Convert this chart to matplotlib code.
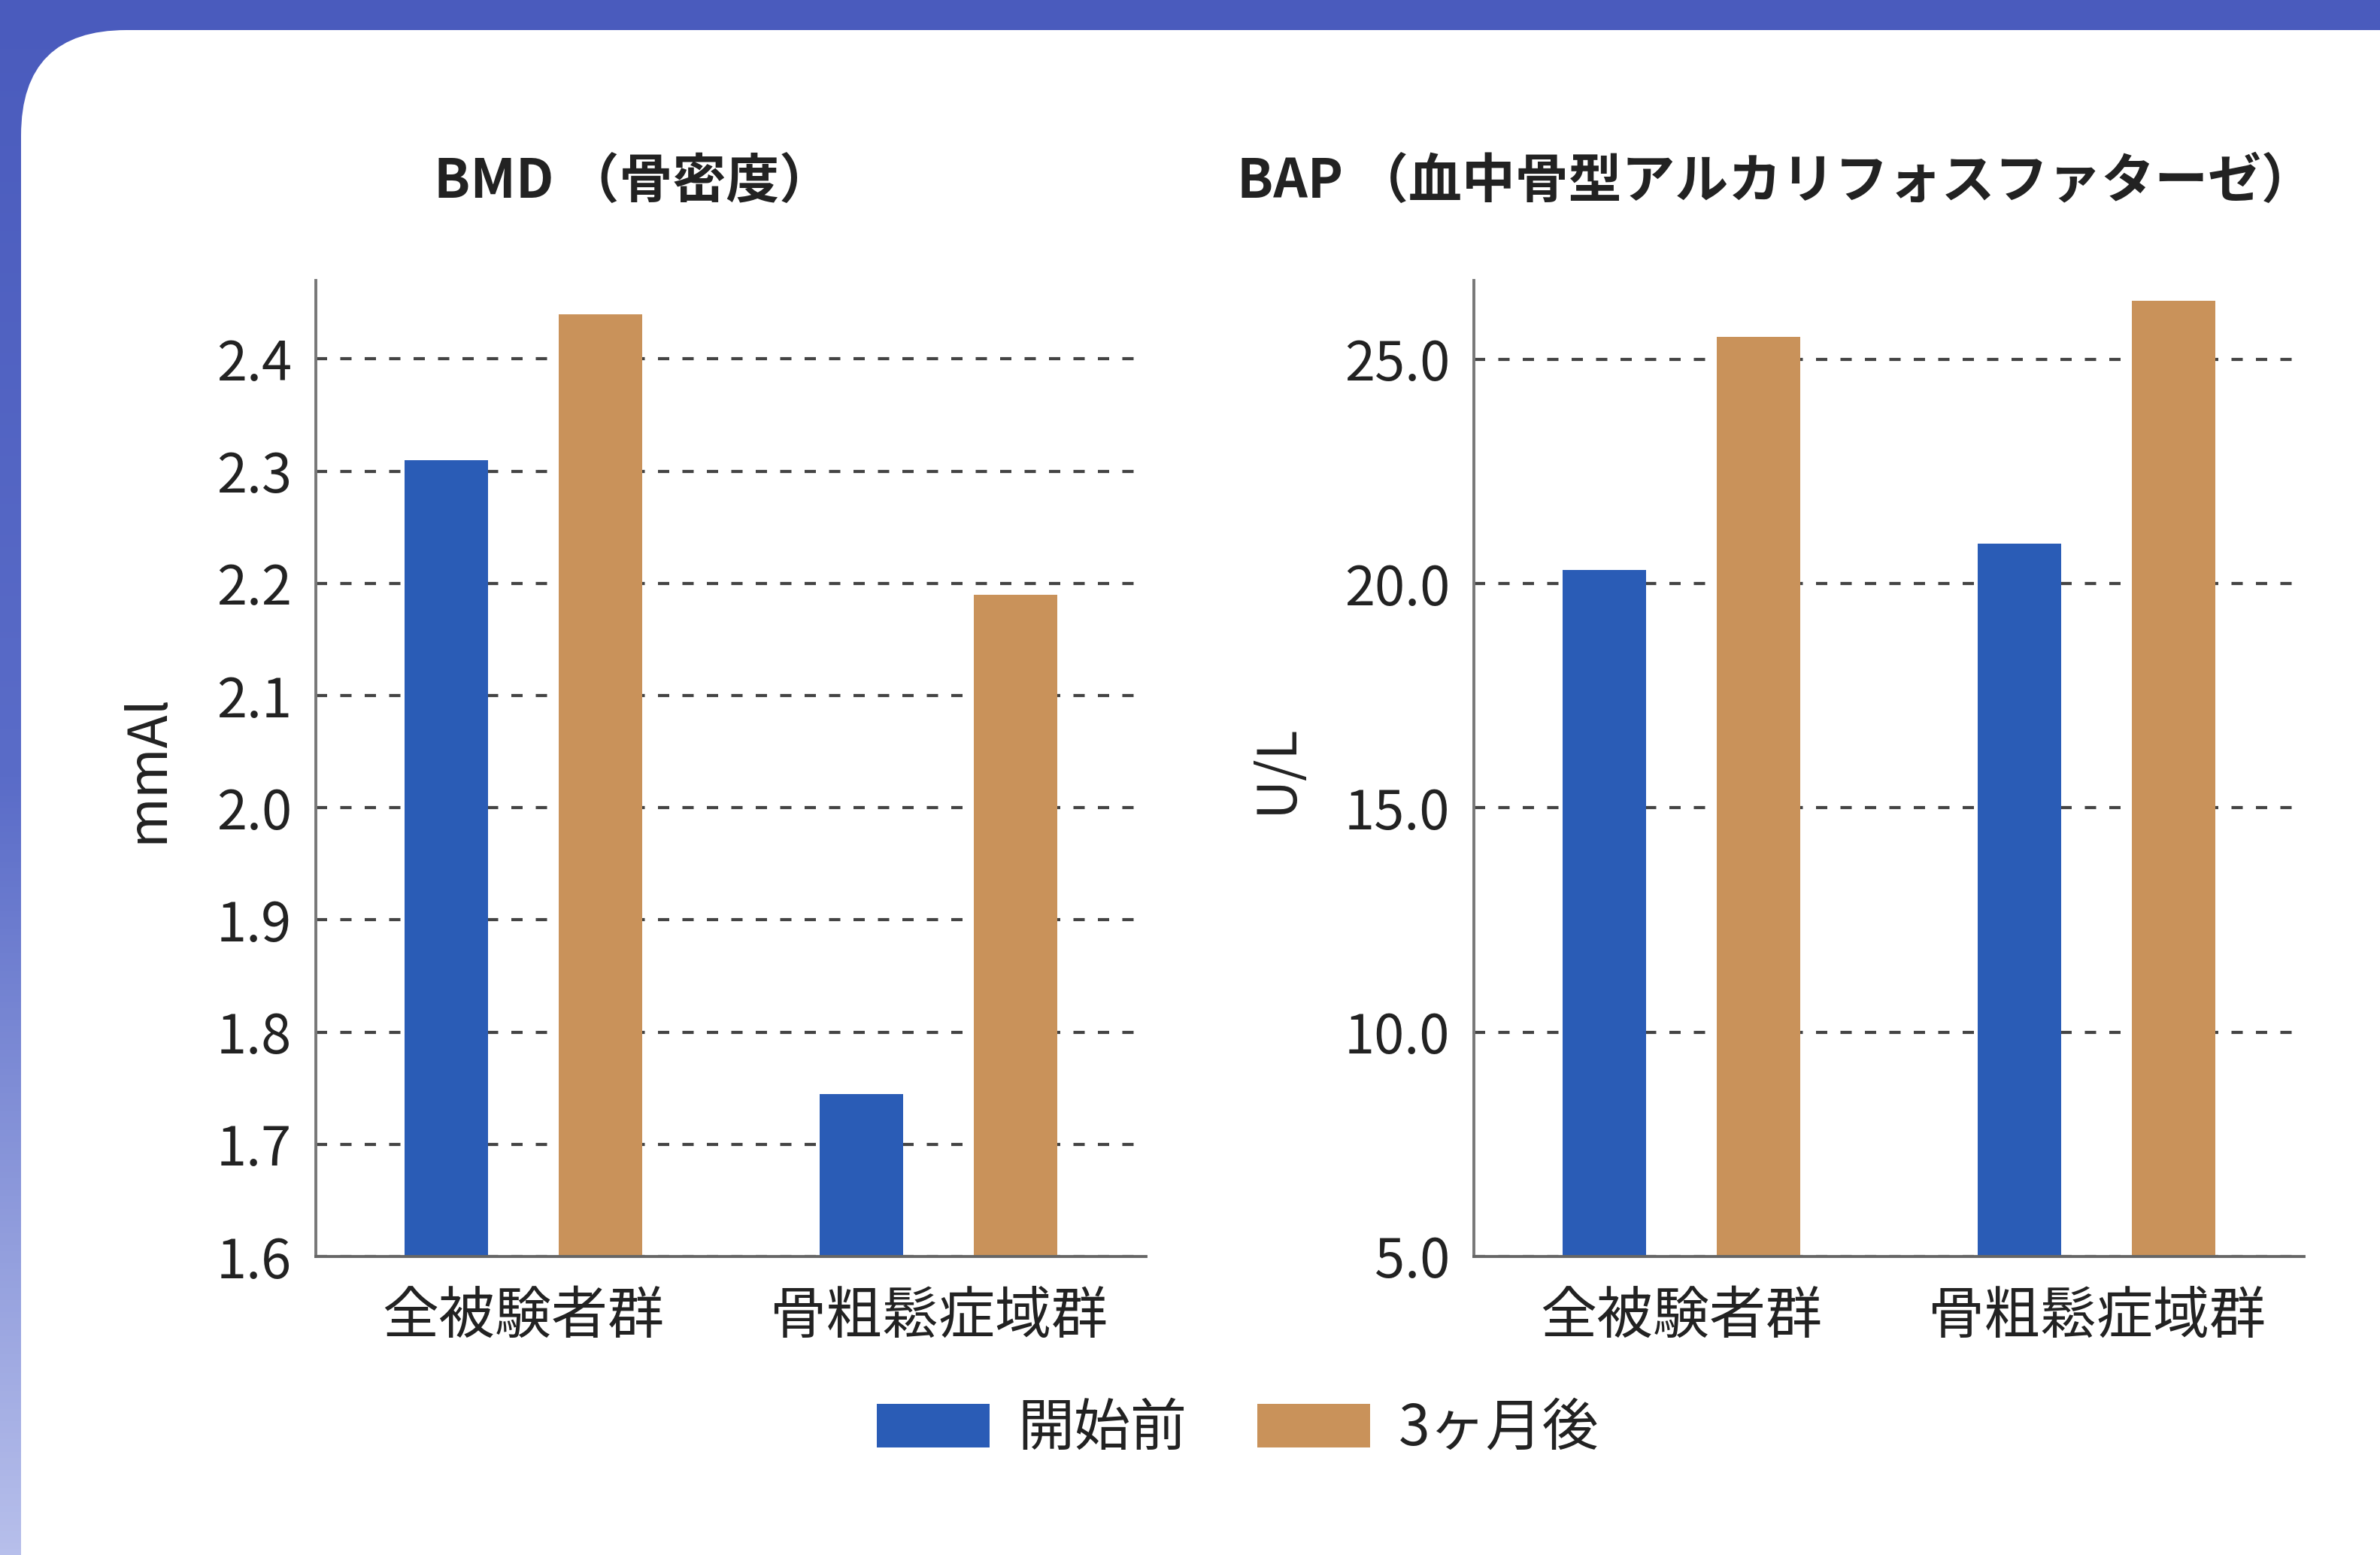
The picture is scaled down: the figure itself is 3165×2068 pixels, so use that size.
import numpy as np
import matplotlib
matplotlib.use("Agg")
import matplotlib.pyplot as plt
from matplotlib.patches import Patch, FancyBboxPatch
from matplotlib.colors import LinearSegmentedColormap

plt.rcParams['font.family'] = ['Noto Sans CJK JP', 'DejaVu Sans']

# ---- data ----
categories = ['全被験者群', '骨粗鬆症域群']
series_names = ['開始前', '3ヶ月後']
bmd_before = [2.31, 1.745]
bmd_after = [2.44, 2.19]
bap_before = [20.3, 20.9]
bap_after = [25.5, 26.3]
bmd_ticks = [1.6, 1.7, 1.8, 1.9, 2.0, 2.1, 2.2, 2.3, 2.4]
bmd_ticklabels = ['1.6', '1.7', '1.8', '1.9', '2.0', '2.1', '2.2', '2.3', '2.4']
bap_ticks = [5.0, 10.0, 15.0, 20.0, 25.0]
bap_ticklabels = ['5.0', '10.0', '15.0', '20.0', '25.0']
titles = ['BMD （骨密度）', 'BAP （血中骨型アルカリフォスファターゼ）']
ylabels = ['mmAl', 'U/L']

BLUE = '#2a5cb6'
TAN = '#c9925a'
TEXT = '#222222'

W, H = 3165, 2068
fig = plt.figure(figsize=(W / 100, H / 100), dpi=100)

# ---- background: blue gradient with white rounded panel ----
bg = fig.add_axes([0, 0, 1, 1], zorder=-10)
cmap = LinearSegmentedColormap.from_list('bg', ['#4a5bbd', '#5a6cc8', '#b7bfeb'])
grad = np.linspace(0, 1, 256).reshape(-1, 1)
bg.imshow(grad, extent=(0, W, H, 0), aspect='auto', cmap=cmap)
bg.set_xlim(0, W)
bg.set_ylim(H, 0)
panel = FancyBboxPatch((28, 40), W + 200, H + 200,
                       boxstyle='round,pad=0,rounding_size=140',
                       facecolor='white', edgecolor='none')
bg.add_patch(panel)
bg.axis('off')

# ---- axes ----
ax_h = 1298 / H
ax_w = 1104 / W
ax_y = 1 - 1671 / H
axL = fig.add_axes([420 / W, ax_y, ax_w, ax_h])
axR = fig.add_axes([1960 / W, ax_y, ax_w, ax_h])

x = np.arange(len(categories))
bw = 0.2
off = 0.186

configs = [
    (axL, bmd_before, bmd_after, (1.6, 2.47), bmd_ticks, bmd_ticklabels, -0.17, 0.382),
    (axR, bap_before, bap_after, (5.0, 26.76), bap_ticks, bap_ticklabels, -0.205, 0.364),
]

for i, (ax, before, after, ylim, ticks, tlabels, ylab_x, title_x) in enumerate(configs):
    ax.bar(x - off, before, width=bw, color=BLUE, zorder=3, label=series_names[0])
    ax.bar(x + off, after, width=bw, color=TAN, zorder=3, label=series_names[1])
    ax.set_xlim(-0.5, 1.5)
    ax.set_ylim(*ylim)
    ax.set_yticks(ticks)
    ax.set_yticklabels(tlabels)
    ax.set_xticks(x)
    ax.set_xticklabels(categories)
    ax.set_axisbelow(True)
    ax.yaxis.grid(True, linestyle=(0, (3.6, 4.2)), color='#444444', linewidth=3.0)
    ax.xaxis.grid(False)
    for s in ['top', 'right']:
        ax.spines[s].set_visible(False)
    ax.spines['left'].set_color('#777777')
    ax.spines['left'].set_linewidth(2.8)
    ax.spines['bottom'].set_color('#666666')
    ax.spines['bottom'].set_linewidth(2.8)
    ax.spines['left'].set_zorder(4)
    ax.spines['bottom'].set_zorder(4)
    ax.tick_params(axis='y', length=0, pad=23, labelsize=52, labelcolor=TEXT)
    ax.tick_params(axis='x', length=0, pad=30, labelsize=54, labelcolor=TEXT)
    ax.set_facecolor('none')
    ax.set_ylabel(ylabels[i], fontsize=52, color=TEXT)
    ax.yaxis.set_label_coords(ylab_x, 0.5)
    ax.text(title_x, 1.101, titles[i], transform=ax.transAxes, ha='center', va='center',
            fontsize=51, fontweight='bold', color=TEXT)

handles = [Patch(facecolor=BLUE, edgecolor='none'), Patch(facecolor=TAN, edgecolor='none')]
fig.legend(handles, series_names, ncol=2, frameon=False, fontsize=54,
           handlelength=2.0, handleheight=0.8, handletextpad=0.5, columnspacing=1.25,
           loc='center', bbox_to_anchor=(0.52, 0.081), labelcolor=TEXT)

fig.savefig('out.png', dpi=100)
